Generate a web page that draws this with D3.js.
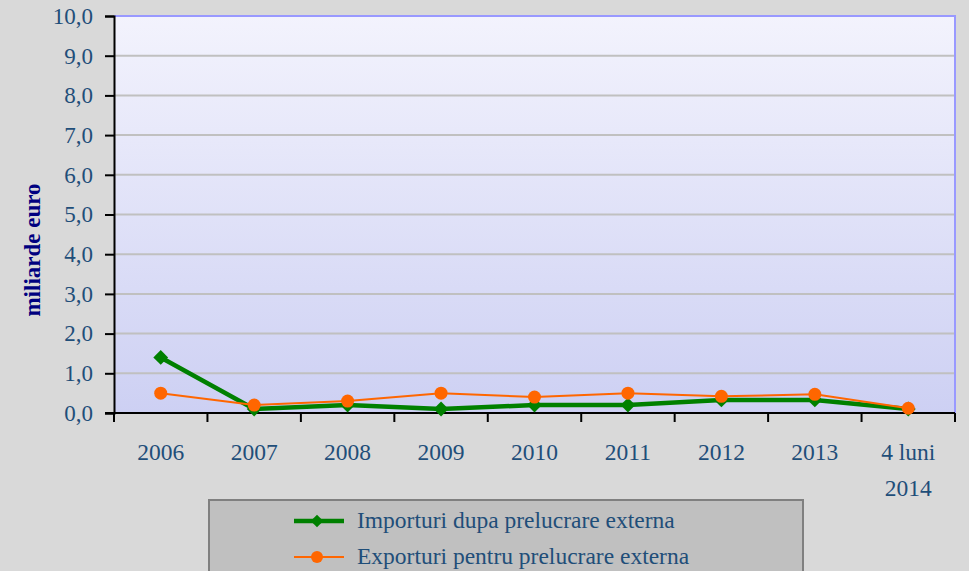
<!DOCTYPE html>
<html>
<head>
  <style type="text/css">
    body { margin: 0; background: #d9d9d9; }
    text { font-family: "Liberation Serif", "DejaVu Serif", serif; }
  </style>
</head>
<body>
  <svg width="969" height="571" id="chart"></svg>
  <script src="https://d3js.org/d3.v7.min.js"></script>
  <script>
const categories = ['2006', '2007', '2008', '2009', '2010', '2011', '2012', '2013', '4 luni|2014']
const imports = [1.4, 0.1, 0.2, 0.1, 0.2, 0.2, 0.33, 0.33, 0.1]
const exports = [0.5, 0.2, 0.3, 0.5, 0.4, 0.5, 0.42, 0.47, 0.12]
const yTicks = [0, 1, 2, 3, 4, 5, 6, 7, 8, 9, 10]
const seriesNames = ['Importuri dupa prelucrare externa', 'Exporturi pentru prelucrare externa']

function translate(x, y) { return 'translate(' + x + ',' + y + ')'; }

let pLeft = 114, pTop = 16, pRight = 955, pBottom = 413
let svg = d3.select('#chart')
let textColor = '#1f4e79'

let x = d3.scaleBand().domain(categories).range([pLeft, pRight])
let y = d3.scaleLinear().domain([0, 10]).range([pBottom, pTop])

// plot background gradient
let grad = svg.append('defs').append('linearGradient')
  .attr('id', 'bg').attr('x1', 0).attr('y1', 0).attr('x2', 0).attr('y2', 1)
grad.append('stop').attr('offset', '0%').attr('stop-color', '#f3f3fd')
grad.append('stop').attr('offset', '100%').attr('stop-color', '#cdd0f3')

svg.append('rect')
  .attr('x', pLeft).attr('y', pTop)
  .attr('width', pRight - pLeft).attr('height', pBottom - pTop)
  .attr('fill', 'url(#bg)')

// gridlines
svg.append('g').selectAll('line')
  .data(yTicks.filter(d => d > 0 && d < 10))
  .join('line')
    .attr('x1', pLeft).attr('x2', pRight)
    .attr('y1', d => y(d)).attr('y2', d => y(d))
    .attr('stroke', '#c0c0c0').attr('stroke-width', 2)

// top and right borders
svg.append('path')
  .attr('d', `M${pLeft},${pTop}H${pRight}V${pBottom}`)
  .attr('fill', 'none').attr('stroke', '#9999ff').attr('stroke-width', 2)

// y axis
let yAxis = svg.append('g')
  .attr('transform', translate(pLeft, 0))
  .call(d3.axisLeft(y).tickValues(yTicks).tickSize(9).tickPadding(12)
    .tickFormat(d => d3.format('.1f')(d).replace('.', ',')))
yAxis.select('.domain').attr('stroke', '#000').attr('stroke-width', 2)
yAxis.selectAll('.tick line').attr('stroke', '#000').attr('stroke-width', 2)
yAxis.selectAll('.tick text')
  .attr('fill', textColor).attr('font-size', 23)
  .style('font-family', '"Liberation Serif", serif')

// x axis
let bounds = categories.map(c => x(c)).concat([pRight])
let xAxisG = svg.append('g')
xAxisG.append('line')
  .attr('x1', pLeft - 9).attr('x2', pRight)
  .attr('y1', pBottom).attr('y2', pBottom)
  .attr('stroke', '#000').attr('stroke-width', 2)
xAxisG.selectAll('line.tk')
  .data(bounds)
  .join('line')
    .attr('class', 'tk')
    .attr('x1', d => d).attr('x2', d => d)
    .attr('y1', pBottom).attr('y2', pBottom + 9)
    .attr('stroke', '#000').attr('stroke-width', 2)

let xl = xAxisG.selectAll('text.cat')
  .data(categories)
  .join('text')
    .attr('class', 'cat')
    .attr('text-anchor', 'middle')
    .attr('fill', textColor)
    .attr('font-size', 23.5)
    .attr('x', d => x(d) + x.bandwidth() / 2)
    .attr('y', 460)
xl.each(function(d) {
  let parts = d.split('|')
  let t = d3.select(this)
  parts.forEach((p, i) => {
    t.append('tspan').attr('x', x(d) + x.bandwidth() / 2).attr('dy', i ? 36 : 0).text(p)
  })
})

// y label
svg.append('text')
  .attr('transform', translate(40, 250) + ' rotate(-90)')
  .attr('text-anchor', 'middle')
  .attr('fill', '#000080')
  .attr('font-weight', 'bold')
  .attr('font-size', 23)
  .text('miliarde euro')

let cx = d => x(d) + x.bandwidth() / 2
let line = d3.line().x(d => cx(d[0])).y(d => y(d[1]))
let importPts = categories.map((c, i) => [c, imports[i]])
let exportPts = categories.map((c, i) => [c, exports[i]])

svg.append('path').datum(importPts)
  .attr('d', line).attr('fill', 'none')
  .attr('stroke', '#008000').attr('stroke-width', 4.5)
svg.append('g').selectAll('path')
  .data(importPts)
  .join('path')
    .attr('d', d3.symbol(d3.symbolSquare, 110))
    .attr('transform', d => translate(cx(d[0]), y(d[1])) + ' rotate(45)')
    .attr('fill', '#008000')

svg.append('path').datum(exportPts)
  .attr('d', line).attr('fill', 'none')
  .attr('stroke', '#ff6600').attr('stroke-width', 2)
svg.append('g').selectAll('circle')
  .data(exportPts)
  .join('circle')
    .attr('cx', d => cx(d[0])).attr('cy', d => y(d[1]))
    .attr('r', 6.5)
    .attr('fill', '#ff6600')

// legend
let lg = svg.append('g')
lg.append('rect')
  .attr('x', 209).attr('y', 500)
  .attr('width', 594).attr('height', 90)
  .attr('fill', '#c0c0c0').attr('stroke', '#808080').attr('stroke-width', 2)

let rows = [
  { name: seriesNames[0], color: '#008000', w: 4.5, y: 521, marker: 'diamond' },
  { name: seriesNames[1], color: '#ff6600', w: 2, y: 557, marker: 'circle' }
]
rows.forEach(r => {
  lg.append('line')
    .attr('x1', 294).attr('x2', 344)
    .attr('y1', r.y).attr('y2', r.y)
    .attr('stroke', r.color).attr('stroke-width', r.w)
  if (r.marker === 'diamond') {
    lg.append('path')
      .attr('d', d3.symbol(d3.symbolSquare, 80))
      .attr('transform', translate(317, r.y) + ' rotate(45)')
      .attr('fill', r.color)
  } else {
    lg.append('circle').attr('cx', 317).attr('cy', r.y).attr('r', 6).attr('fill', r.color)
  }
  lg.append('text')
    .attr('x', 357).attr('y', r.y + 7)
    .attr('fill', textColor)
    .attr('font-size', 23.5)
    .text(r.name)
})
  </script>
</body>
</html>
